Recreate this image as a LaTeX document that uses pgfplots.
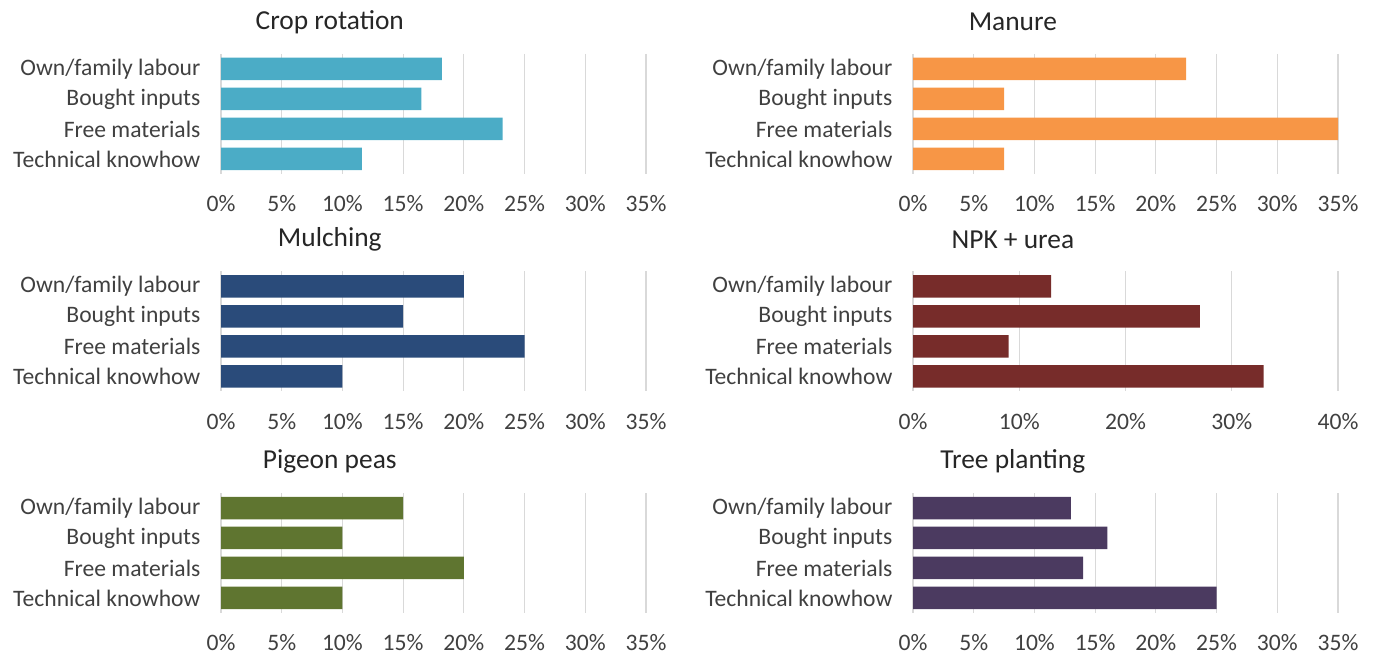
\documentclass[border=0pt]{standalone}
\usepackage{pgfplots}
\pgfplotsset{compat=1.18}
\usepackage{fontspec}
\setmainfont{Carlito}
\definecolor{cCrop}{HTML}{4BACC6}
\definecolor{cMan}{HTML}{F79646}
\definecolor{cMul}{HTML}{2A4B7A}
\definecolor{cNpk}{HTML}{772C2A}
\definecolor{cPig}{HTML}{5F7530}
\definecolor{cTree}{HTML}{4B3A60}
\definecolor{txt}{HTML}{404040}
\definecolor{grd}{HTML}{D9D9D9}
\pgfplotsset{
  panel/.style={
    scale only axis, width=212.5pt, height=60pt, anchor=south west,
    xbar, bar width=11.25pt, y dir=reverse,
    ymin=-0.5, ymax=3.5, ytick={0,1,2,3},
    yticklabels={Own/family labour,Bought inputs,Free materials,Technical knowhow},
    xmin=0,
    xmajorgrids, grid style={grd, line width=0.6pt},
    axis line style={draw=none}, tick style={draw=none},
    /pgf/number format/assume math mode=true,
    ticklabel style={font=\fontsize{11.8pt}{13pt}\selectfont, text=txt},
    yticklabel style={anchor=east, xshift=-2.5pt},
    xticklabel style={anchor=center, yshift=-15pt},
    title style={font=\fontsize{13.7pt}{15pt}\selectfont, text=black!85, anchor=center, yshift=10pt},
  },
  five/.style={xmax=35, xtick={0,5,...,35}, xticklabels={0\%,5\%,10\%,15\%,20\%,25\%,30\%,35\%}},
  ltitle/.style={title={#1}, title style={at={(axis description cs:0.256,1)}}},
  rtitle/.style={title={#1}, title style={at={(axis description cs:0.235,1)}}},
}
\begin{document}
\begin{tikzpicture}
\path[use as bounding box] (0,0) rectangle (687.5pt,328.5pt);
% top left
\begin{axis}[panel, five, ltitle={Crop rotation}, at={(110.5pt,241.5pt)}]
\addplot[fill=cCrop, draw=none] coordinates {(18.2,0) (16.5,1) (23.2,2) (11.6,3)};
\end{axis}
% top right
\begin{axis}[panel, five, rtitle={Manure}, at={(456.5pt,241.5pt)}]
\addplot[fill=cMan, draw=none] coordinates {(22.5,0) (7.5,1) (35,2) (7.5,3)};
\end{axis}
% middle left
\begin{axis}[panel, five, ltitle={Mulching}, at={(110.5pt,132.75pt)}]
\addplot[fill=cMul, draw=none] coordinates {(20,0) (15,1) (25,2) (10,3)};
\end{axis}
% middle right
\begin{axis}[panel, rtitle={NPK + urea}, at={(456.5pt,132.75pt)}, xmax=40, xtick={0,10,20,30,40}, xticklabels={0\%,10\%,20\%,30\%,40\%}]
\addplot[fill=cNpk, draw=none] coordinates {(13,0) (27,1) (9,2) (33,3)};
\end{axis}
% bottom left
\begin{axis}[panel, five, ltitle={Pigeon peas}, at={(110.5pt,22pt)}]
\addplot[fill=cPig, draw=none] coordinates {(15,0) (10,1) (20,2) (10,3)};
\end{axis}
% bottom right
\begin{axis}[panel, five, rtitle={Tree planting}, at={(456.5pt,22pt)}]
\addplot[fill=cTree, draw=none] coordinates {(13,0) (16,1) (14,2) (25,3)};
\end{axis}
\end{tikzpicture}
\end{document}
